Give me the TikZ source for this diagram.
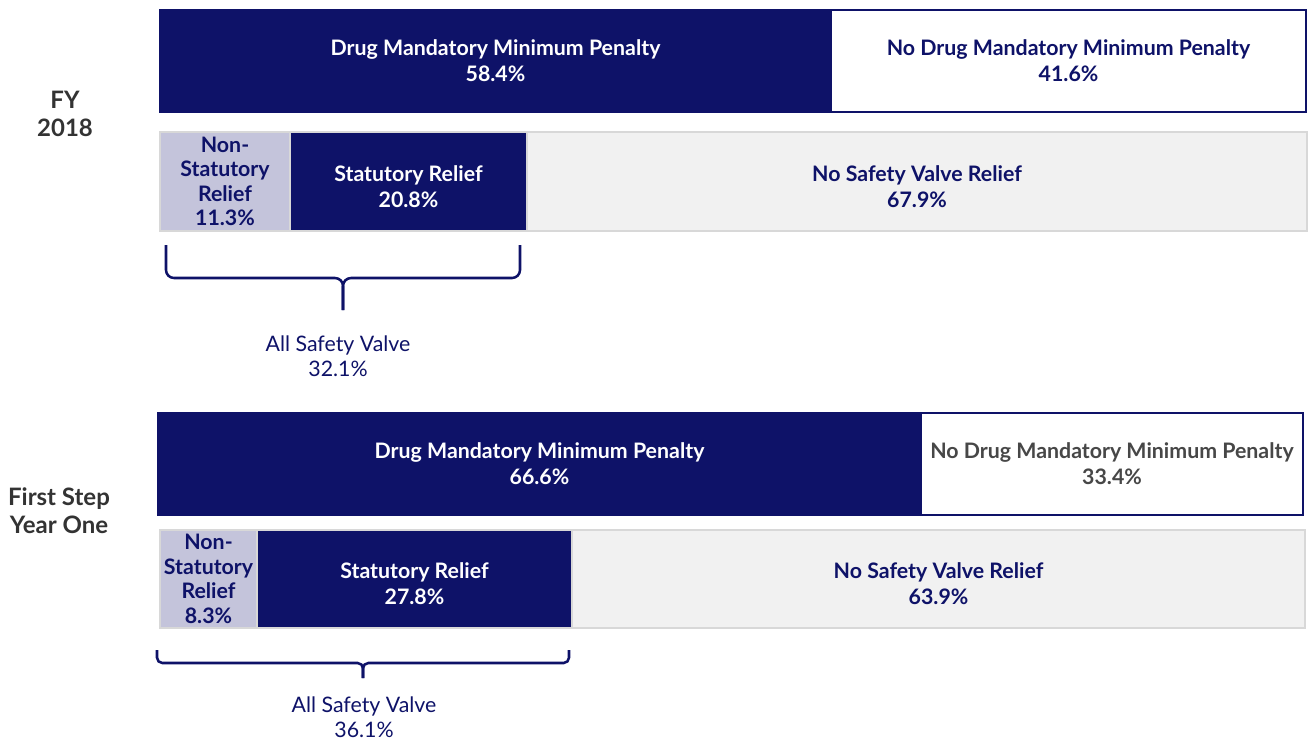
\documentclass[tikz,border=0pt]{standalone}
\usepackage{fontspec}
\setmainfont{Lato}

\definecolor{svnavy}{RGB}{14,18,104}
\definecolor{svlilac}{RGB}{196,196,219}
\definecolor{svgrey}{RGB}{241,241,241}
\definecolor{svedge}{RGB}{216,216,216}
\definecolor{svtext}{RGB}{51,51,51}

\tikzset{
  box/.style={inner sep=0pt, outer sep=0pt, anchor=north west, align=center,
    font=\bfseries\fontsize{16}{19.5}\selectfont},
  navybox/.style={box, fill=svnavy, draw=svnavy, line width=1pt, text=white},
  openbox/.style={box, fill=white, draw=svnavy, line width=1.5pt, text=svnavy},
  lilacbox/.style={box, fill=svlilac, draw=svedge, line width=1.5pt, text=svnavy,
    font=\bfseries\fontsize{16}{18.4}\selectfont},
  greybox/.style={box, fill=svgrey, draw=svedge, line width=1.5pt, text=svnavy},
  lowtext/.style={text height=39pt},
  rowlabel/.style={align=center, text=svtext, font=\bfseries\fontsize{18}{21}\selectfont},
  bracelabel/.style={align=center, text=svnavy, font=\fontsize{16}{18.8}\selectfont},
  brace/.style={draw=svnavy, line width=1.9pt, rounded corners=6pt}
}

\begin{document}
\begin{tikzpicture}[x=0.75pt,y=-0.75pt]
  \useasboundingbox (0,0) rectangle (1309,740);

  %% FY 2018
  \node[rowlabel] (fy) at (65,114) {FY\\2018};
  \node[navybox, minimum width=503.25pt, minimum height=76.5pt] (dmm18) at (160,10)
    {Drug Mandatory Minimum Penalty\\58.4\%};
  \node[openbox, minimum width=356.25pt, minimum height=76.5pt] (nodmm18) at (831,10)
    {No Drug Mandatory Minimum Penalty\\41.6\%};
  \node[greybox, minimum width=860.25pt, minimum height=74.25pt] (row18) at (160,132) {};
  \node[lilacbox, minimum width=97.5pt, minimum height=74.25pt] (nsr18) at (160,132)
    {Non-\\Statutory\\Relief\\11.3\%};
  \node[navybox, lowtext, draw=svedge, minimum width=177.75pt, minimum height=74.25pt] (sr18) at (290,132)
    {Statutory Relief\\20.8\%};
  \node[greybox, lowtext, minimum width=585pt, minimum height=74.25pt] (nosv18) at (527,132)
    {No Safety Valve Relief\\67.9\%};

  %% brace under the safety valve parts
  \coordinate (b18l) at (166,245);
  \coordinate (b18r) at (520,245);
  \coordinate (b18m) at (343,278);
  \coordinate (b18tip) at (343,310);
  \draw[brace] (b18l) |- (b18m) -- (b18tip);
  \draw[brace] (b18r) |- (b18m) -- (b18tip);
  \node[bracelabel] (sv18) at (338,356) {All Safety Valve\\32.1\%};

  %% First Step year one
  \node[rowlabel] (fsa) at (59,511) {First Step\\Year One};
  \node[navybox, minimum width=572.25pt, minimum height=76.5pt] (dmmfs) at (158,413)
    {Drug Mandatory Minimum Penalty\\66.6\%};
  \node[openbox, text=svtext!90!white, minimum width=286.5pt, minimum height=76.5pt] (nodmmfs) at (921,413)
    {No Drug Mandatory Minimum Penalty\\33.4\%};
  \node[greybox, minimum width=858.75pt, minimum height=73.5pt] (rowfs) at (160,530) {};
  \node[lilacbox, minimum width=72.75pt, minimum height=73.5pt] (nsrfs) at (160,530)
    {Non-\\Statutory\\Relief\\8.3\%};
  \node[navybox, lowtext, draw=svedge, minimum width=236.25pt, minimum height=73.5pt] (srfs) at (257,530)
    {Statutory Relief\\27.8\%};
  \node[greybox, lowtext, minimum width=549.75pt, minimum height=73.5pt] (nosvfs) at (572,530)
    {No Safety Valve Relief\\63.9\%};

  %% brace under the safety valve parts
  \coordinate (bfsl) at (157,650);
  \coordinate (bfsr) at (569,650);
  \coordinate (bfsm) at (363,663);
  \coordinate (bfstip) at (363,678);
  \draw[brace,rounded corners=4pt] (bfsl) |- (bfsm) -- (bfstip);
  \draw[brace,rounded corners=4pt] (bfsr) |- (bfsm) -- (bfstip);
  \node[bracelabel] (svfs) at (364,717) {All Safety Valve\\36.1\%};
\end{tikzpicture}
\end{document}
